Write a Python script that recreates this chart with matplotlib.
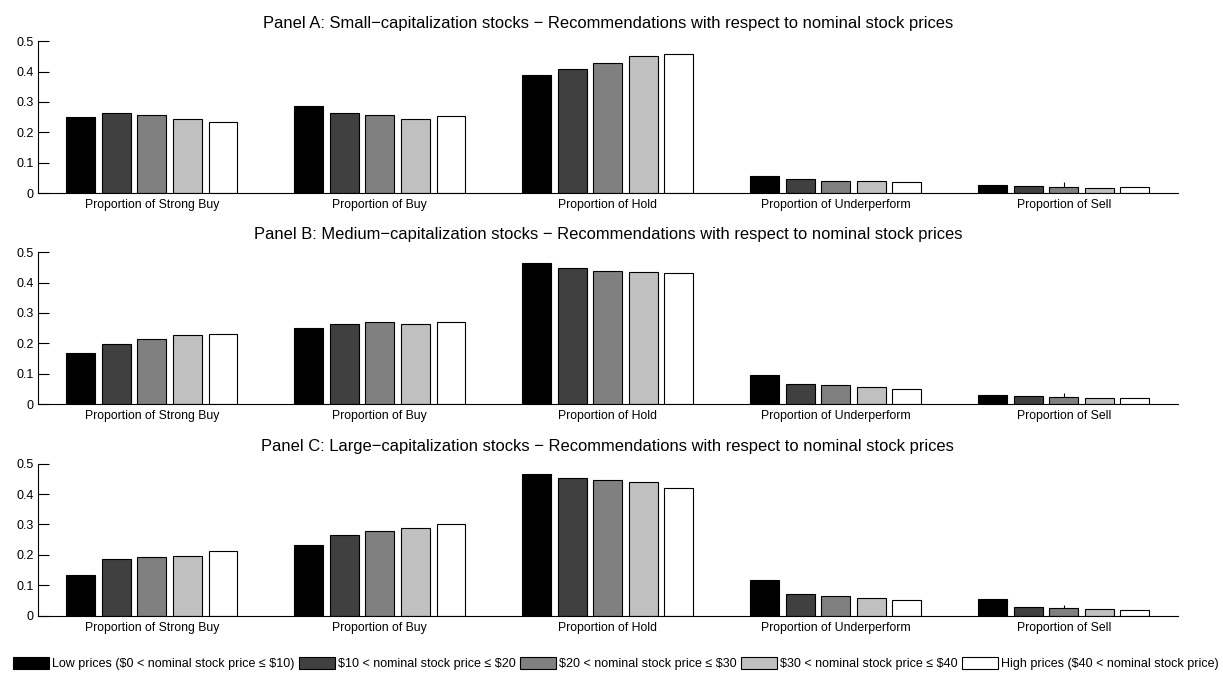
import numpy as np
import matplotlib
matplotlib.use("Agg")
import matplotlib.pyplot as plt
from matplotlib.patches import Patch

plt.rcParams['font.family'] = ['Liberation Sans', 'DejaVu Sans']
plt.rcParams['text.parse_math'] = False

categories = ["Proportion of Strong Buy", "Proportion of Buy", "Proportion of Hold",
              "Proportion of Underperform", "Proportion of Sell"]

price_groups = ["Low prices ($0 < nominal stock price \u2264 $10)",
                "$10 < nominal stock price \u2264 $20",
                "$20 < nominal stock price \u2264 $30",
                "$30 < nominal stock price \u2264 $40",
                "High prices ($40 < nominal stock price)"]

panel_titles = [
    "Panel A: Small\u2212capitalization stocks \u2212 Recommendations with respect to nominal stock prices",
    "Panel B: Medium\u2212capitalization stocks \u2212 Recommendations with respect to nominal stock prices",
    "Panel C: Large\u2212capitalization stocks \u2212 Recommendations with respect to nominal stock prices",
]

# rows: price groups (low -> high), columns: recommendation categories
small_cap = [
    [0.249, 0.286, 0.388, 0.055, 0.026],
    [0.262, 0.264, 0.408, 0.045, 0.022],
    [0.258, 0.257, 0.427, 0.040, 0.020],
    [0.245, 0.245, 0.452, 0.039, 0.018],
    [0.235, 0.253, 0.457, 0.037, 0.020],
]
medium_cap = [
    [0.168, 0.249, 0.463, 0.094, 0.030],
    [0.197, 0.264, 0.449, 0.066, 0.027],
    [0.213, 0.271, 0.437, 0.061, 0.023],
    [0.228, 0.264, 0.434, 0.057, 0.019],
    [0.232, 0.269, 0.432, 0.050, 0.019],
]
large_cap = [
    [0.135, 0.234, 0.466, 0.116, 0.054],
    [0.185, 0.266, 0.454, 0.070, 0.027],
    [0.193, 0.279, 0.445, 0.063, 0.024],
    [0.195, 0.287, 0.441, 0.059, 0.021],
    [0.212, 0.302, 0.420, 0.050, 0.018],
]

bar_colors = ["#000000", "#404040", "#808080", "#c0c0c0", "#ffffff"]

fig = plt.figure(figsize=(12.23, 6.73), dpi=100)

left, width = 0.031, 0.932
bottoms = [0.7132, 0.3997, 0.0854]
height = 0.2255

x = np.arange(1, len(categories) + 1)
step = 0.156
bw = 0.127

for data, title, bottom in zip([small_cap, medium_cap, large_cap], panel_titles, bottoms):
    ax = fig.add_axes([left, bottom, width, height])
    for i, (vals, col) in enumerate(zip(data, bar_colors)):
        ax.bar(x + (i - 2) * step, vals, width=bw, color=col,
               edgecolor="black", linewidth=0.8, zorder=3)
    ax.set_xlim(0.5, 5.5)
    ax.set_ylim(0, 0.5)
    ax.set_yticks([0, 0.1, 0.2, 0.3, 0.4, 0.5])
    ax.set_yticklabels(["0", "0.1", "0.2", "0.3", "0.4", "0.5"])
    ax.set_xticks(x)
    ax.set_xticklabels(categories)
    ax.tick_params(axis="both", direction="in", length=8, width=0.8,
                   labelsize=9, pad=3)
    ax.tick_params(axis="x", labelsize=8.8, pad=4.5)
    for s in ("top", "right"):
        ax.spines[s].set_visible(False)
    for s in ("left", "bottom"):
        ax.spines[s].set_linewidth(0.8)
        ax.spines[s].set_zorder(4)
    ax.set_title(title, fontsize=11.9, pad=9.5)

handles = [Patch(facecolor=c, edgecolor="black", linewidth=0.8) for c in bar_colors]
fig.legend(handles, price_groups, loc="lower center", bbox_to_anchor=(0.5037, -0.012),
           ncol=5, frameon=False, fontsize=9, handlelength=2.9, handleheight=1.1,
           handletextpad=0.25, columnspacing=0.32)

fig.savefig("out.png", dpi=100)
